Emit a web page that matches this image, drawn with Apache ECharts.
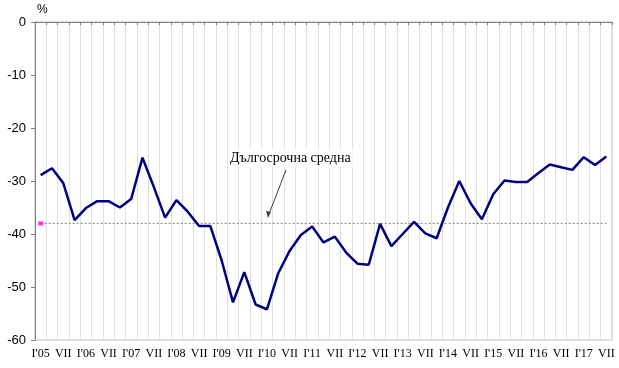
<!DOCTYPE html>
<html>
<head>
<meta charset="utf-8">
<script src="https://cdn.jsdelivr.net/npm/echarts@6/dist/echarts.min.js"></script>
<style>html,body{margin:0;padding:0;background:#fff;}#c{width:619px;height:368px;}</style>
</head>
<body>
<div id="c"></div>
<script>
const categories = ["I'05","IV","VII","X","I'06","IV","VII","X","I'07","IV","VII","X","I'08","IV","VII","X",
"I'09","IV","VII","X","I'10","IV","VII","X","I'11","IV","VII","X","I'12","IV","VII","X",
"I'13","IV","VII","X","I'14","IV","VII","X","I'15","IV","VII","X","I'16","IV","VII","X","I'17","IV","VII"];
const values = [-28.9,-27.6,-30.4,-37.4,-35.1,-33.8,-33.8,-35.0,-33.4,-25.6,-31.1,-36.9,-33.6,-35.8,-38.5,-38.5,
-45.0,-52.9,-47.2,-53.3,-54.2,-47.4,-43.2,-40.2,-38.6,-41.6,-40.5,-43.5,-45.6,-45.8,-38.1,-42.3,
-40.0,-37.7,-39.9,-40.8,-35.0,-30.0,-34.2,-37.2,-32.5,-29.9,-30.2,-30.2,-28.5,-26.9,-27.4,-27.9,-25.5,-27.0,-25.4];
const longTermAvg = -38.0;
const annotation = "Дългосрочна средна";
const unit = "%";

const avgData = categories.map(() => longTermAvg);

const chart = echarts.init(document.getElementById('c'), null, {renderer:'canvas'});
chart.setOption({
  animation:false,
  backgroundColor:'#fff',
  grid:{left:35,right:7,top:22,bottom:28,show:true,borderColor:'#c0c0c0',borderWidth:1},
  xAxis:[{
    type:'category',data:categories,boundaryGap:true,position:'bottom',
    axisLine:{show:true,lineStyle:{color:'#c0c0c0'}},
    axisTick:{show:false},
    axisLabel:{interval:1,color:'#000',fontFamily:'Liberation Serif',fontSize:12,margin:8},
    splitLine:{show:true,interval:0,lineStyle:{color:'#e0e0e0',width:1}}
  },{
    type:'category',data:categories,boundaryGap:true,position:'top',
    axisLine:{show:true,onZero:false,lineStyle:{color:'#7f7f7f',width:1}},
    axisTick:{show:true,inside:true,length:3,interval:0,lineStyle:{color:'#7f7f7f'}},
    axisLabel:{show:false},splitLine:{show:false}
  }],
  yAxis:{
    type:'value',min:-60,max:0,interval:10,
    name:unit,nameLocation:'end',nameGap:6,
    nameTextStyle:{color:'#000',fontFamily:'Liberation Sans',fontSize:12,align:'left',padding:[0,0,0,2]},
    axisLine:{show:true,lineStyle:{color:'#7f7f7f'}},
    axisTick:{show:true,length:4,lineStyle:{color:'#7f7f7f'}},
    axisLabel:{color:'#000',fontFamily:'Liberation Sans',fontSize:13,margin:9,formatter:v=>String(v)},
    splitLine:{show:false}
  },
  series:[{
    type:'line',data:avgData,xAxisIndex:0,symbol:'none',
    lineStyle:{color:'#808080',width:1,type:[2,2]},z:2,silent:true
  },{
    type:'scatter',data:[[0,longTermAvg]],xAxisIndex:0,symbol:'rect',symbolSize:[5,4],
    itemStyle:{color:'#ff00ff'},z:4
  },{
    type:'line',data:values,xAxisIndex:0,symbol:'none',
    lineStyle:{color:'#000080',width:2.5},z:3
  }],
  graphic:[{
    type:'text',left:228,top:149,z:10,
    style:{text:annotation,fill:'#000',font:'14px "Liberation Serif"',backgroundColor:'#fff',padding:[2,2]}
  },{
    type:'line',z:10,shape:{x1:286,y1:170,x2:269,y2:214},style:{stroke:'#404040',lineWidth:1}
  },{
    type:'polygon',z:10,shape:{points:[[268,218],[266,211],[271,212]]},style:{fill:'#404040'}
  }]
});
</script>
</body>
</html>
